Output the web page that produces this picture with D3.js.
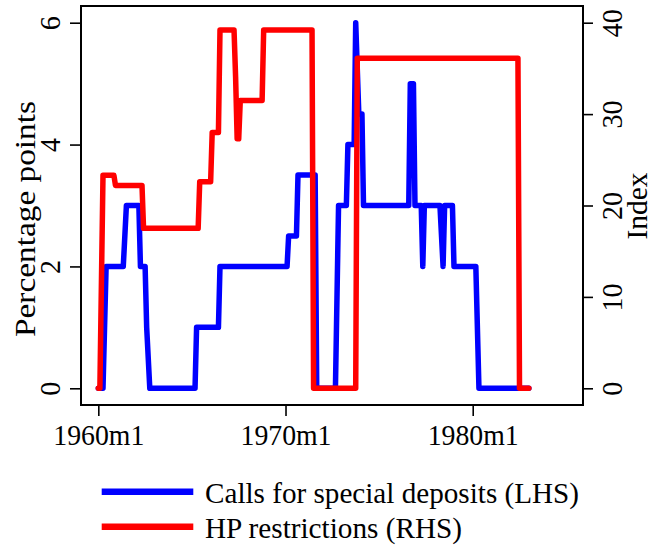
<!DOCTYPE html>
<html>
<head>
  <title>D3</title>
  <meta charset='utf-8'>
  <style>
    body { margin: 0; background: #fff; }
  </style>
</head>
<body>
  <div id="chart"></div>

  <script src="https://cdn.jsdelivr.net/npm/d3@7"></script>

  <script type="text/javascript">
    // Stata monthly dates (%tm) and values
    var depositDates = ["1960m1","1960m4","1960m5","1960m6","1961m5","1961m7","1962m3","1962m4",
                        "1962m7","1962m8","1962m10","1965m3","1965m4","1966m6","1966m7","1970m2",
                        "1970m3","1970m8","1970m9","1971m8","1971m9","1972m9","1972m11","1973m4",
                        "1973m5","1973m9","1973m10","1973m12","1974m2","1974m3","1976m8","1976m9",
                        "1976m11","1976m12","1977m4","1977m5","1977m6","1978m4","1978m6","1978m7",
                        "1978m12","1979m1","1980m3","1980m5","1983m1"];
    var depositValues = [0, 0, 1, 2, 2, 3, 3, 2,
                         2, 1, 0, 0, 1, 1, 2, 2,
                         2.5, 2.5, 3.5, 3.5, 0, 0, 3, 3,
                         4, 4, 6, 4.5, 4.5, 3, 3, 5,
                         5, 3, 3, 2, 3, 3, 2, 3,
                         3, 2, 2, 0, 0];

    var hpDates = ["1960m1","1960m2","1960m4","1960m11","1960m12","1962m5","1962m6","1965m5",
                   "1965m6","1966m1","1966m2","1966m6","1966m7","1967m4","1967m5","1967m6",
                   "1967m7","1967m8","1968m10","1968m11","1971m6","1971m7","1973m10","1973m11",
                   "1982m6","1982m7","1983m1"];
    var hpValues = [0, 0, 23.3, 23.3, 22.2, 22.2, 17.5, 17.5,
                    22.6, 22.6, 28.0, 28.0, 39.2, 39.2, 34.1, 27.3,
                    27.3, 31.5, 31.5, 39.2, 39.2, 0, 0, 36.1,
                    36.1, 0, 0];

    var xTickLabels = ["1960m1", "1970m1", "1980m1"];
    var leftTicks = [0, 2, 4, 6];
    var rightTicks = [0, 10, 20, 30, 40];
    var seriesNames = ["Calls for special deposits (LHS)", "HP restrictions (RHS)"];
    var seriesColors = ["#0000ff", "#ff0000"];

    var serif = '"Liberation Serif", "Times New Roman", Times, "DejaVu Serif", serif';

    // "1960m1" -> months since 1960m1
    function tm(s) {
      var p = s.split("m");
      return (+p[0] - 1960) * 12 + (+p[1] - 1);
    }

    var width = 652,
        height = 546;

    var frame = {left: 81, right: 583, top: 6, bottom: 405};

    var x = d3.scaleLinear().domain([-11.1, 310.7]).range([frame.left, frame.right]);
    var yL = d3.scaleLinear().domain([0, 6]).range([388.3, 22.7]);
    var yR = d3.scaleLinear().domain([0, 40]).range([388.3, 22.7]);

    var svg = d3.select("#chart")
                .append("svg")
                .attr("width", width)
                .attr("height", height)
                .attr("font-family", serif);

    svg.append("rect")
        .attr("width", width)
        .attr("height", height)
        .attr("fill", "#fff");

    var deposits = depositDates.map(function(d, i) { return {t: tm(d), v: depositValues[i]}; });
    var hp = hpDates.map(function(d, i) { return {t: tm(d), v: hpValues[i]}; });

    var lineL = d3.line().x(function(d) { return x(d.t); }).y(function(d) { return yL(d.v); });
    var lineR = d3.line().x(function(d) { return x(d.t); }).y(function(d) { return yR(d.v); });

    svg.append("path")
        .datum(deposits)
        .attr("d", lineL)
        .attr("fill", "none")
        .attr("stroke", seriesColors[0])
        .attr("stroke-width", 5.5)
        .attr("stroke-linejoin", "round")
        .attr("stroke-linecap", "round");

    svg.append("path")
        .datum(hp)
        .attr("d", lineR)
        .attr("fill", "none")
        .attr("stroke", seriesColors[1])
        .attr("stroke-width", 5.5)
        .attr("stroke-linejoin", "round")
        .attr("stroke-linecap", "round");

    // plot frame
    svg.append("rect")
        .attr("x", frame.left)
        .attr("y", frame.top)
        .attr("width", frame.right - frame.left)
        .attr("height", frame.bottom - frame.top)
        .attr("fill", "none")
        .attr("stroke", "#000")
        .attr("stroke-width", 2);

    // axes
    var xAxis = svg.append("g")
        .attr("transform", "translate(0," + frame.bottom + ")")
        .call(d3.axisBottom(x)
                .tickValues(xTickLabels.map(tm))
                .tickFormat(function(d, i) { return xTickLabels[i]; })
                .tickSize(11)
                .tickSizeOuter(0));

    var leftAxis = svg.append("g")
        .attr("transform", "translate(" + frame.left + ",0)")
        .call(d3.axisLeft(yL)
                .tickValues(leftTicks)
                .tickFormat(d3.format("d"))
                .tickSize(11)
                .tickSizeOuter(0));

    var rightAxis = svg.append("g")
        .attr("transform", "translate(" + frame.right + ",0)")
        .call(d3.axisRight(yR)
                .tickValues(rightTicks)
                .tickFormat(d3.format("d"))
                .tickSize(10)
                .tickSizeOuter(0));

    svg.selectAll(".domain").remove();
    svg.selectAll("g").attr("font-family", serif).attr("font-size", 29);
    svg.selectAll(".tick line").attr("stroke", "#000").attr("stroke-width", 1.6);
    svg.selectAll(".tick text").attr("fill", "#000");

    xAxis.selectAll("text")
        .attr("y", 40)
        .attr("dy", null)
        .attr("font-size", 30)
        .attr("textLength", 91)
        .attr("lengthAdjust", "spacingAndGlyphs");

    leftAxis.selectAll("text")
        .attr("x", null)
        .attr("dy", null)
        .attr("text-anchor", "middle")
        .attr("transform", "translate(-21.5,0) rotate(-90)")
        .attr("textLength", 14)
        .attr("lengthAdjust", "spacingAndGlyphs");

    rightAxis.selectAll("text")
        .attr("x", null)
        .attr("dy", null)
        .attr("text-anchor", "middle")
        .attr("transform", "translate(39,0) rotate(-90)")
        .attr("textLength", function(d) { return d === 0 ? 14 : 28; })
        .attr("lengthAdjust", "spacingAndGlyphs");

    // axis titles
    svg.append("text")
        .attr("transform", "translate(35,219) rotate(-90)")
        .attr("text-anchor", "middle")
        .attr("textLength", 236)
        .attr("lengthAdjust", "spacingAndGlyphs")
        .attr("font-size", 30)
        .text("Percentage points");

    svg.append("text")
        .attr("transform", "translate(647,206) rotate(-90)")
        .attr("text-anchor", "middle")
        .attr("textLength", 67)
        .attr("lengthAdjust", "spacingAndGlyphs")
        .attr("font-size", 29)
        .text("Index");

    // legend
    var legendLengths = [374, 257];

    var legend = svg.selectAll(".legend")
        .data(seriesNames)
        .enter()
        .append("g")
        .attr("class", "legend")
        .attr("transform", function(d, i) { return "translate(0," + (491.7 + i * 35) + ")"; });

    legend.append("line")
        .attr("x1", 101.7)
        .attr("x2", 193.3)
        .attr("stroke", function(d, i) { return seriesColors[i]; })
        .attr("stroke-width", 6.5);

    legend.append("text")
        .attr("x", 205)
        .attr("y", 11)
        .attr("font-size", 29)
        .attr("textLength", function(d, i) { return legendLengths[i]; })
        .attr("lengthAdjust", "spacingAndGlyphs")
        .text(function(d) { return d; });
  </script>
</body>
</html>
